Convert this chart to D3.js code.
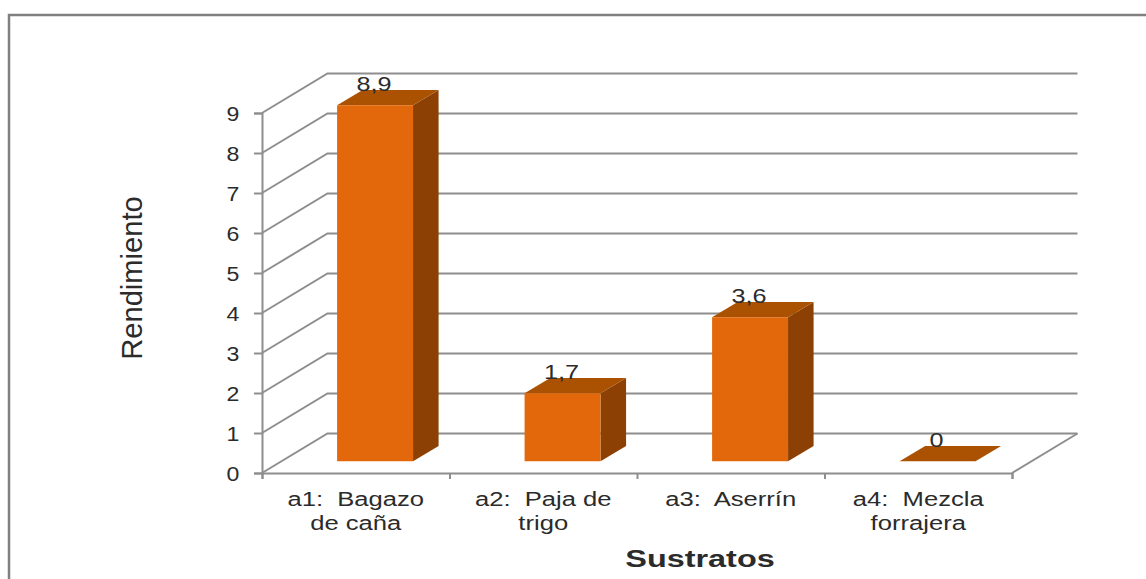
<!DOCTYPE html>
<html lang="es">
<head>
<meta charset="utf-8">
<title>Rendimiento por sustrato</title>
<script src="https://cdn.jsdelivr.net/npm/d3@7"></script>
<style>
html,body{margin:0;padding:0;background:#fff}
svg{display:block}
text{font-family:"Liberation Sans",Arial,sans-serif;fill:#2b2b2b}
</style>
</head>
<body>
<svg id="chart" width="1146" height="579"></svg>
<script>
// Chart values
const categories = ["a1", "a2", "a3", "a4"];
const categoryLabels = [["a1:  Bagazo", "de caña"], ["a2:  Paja de", "trigo"], ["a3:  Aserrín"], ["a4:  Mezcla", "forrajera"]];
const rendimiento = [8.9, 1.7, 3.6, 0];
const valueLabels = ["8,9", "1,7", "3,6", "0"];
const yTicks = [0, 1, 2, 3, 4, 5, 6, 7, 8, 9];
const xTitle = "Sustratos";
const yTitle = "Rendimiento";

const svg = d3.select("#chart");

// Front plane of the 3D box and the offset of its back wall
const x = d3.scaleBand().domain(categories).range([262, 1012]).paddingInner(0).paddingOuter(0);
const y = d3.scaleLinear().domain([0, 9]).range([473, 113]);
const depthX = d3.scaleLinear().domain([0, 1]).range([0, 65.5]);
const depthY = d3.scaleLinear().domain([0, 1]).range([0, -39.5]);

const barShare = 0.405;
const barDepthStart = 0.295, barDepthEnd = 0.685;

const palette = {front: "#e2680b", top: "#ab5202", side: "#8c4003", grid: "#8e8e8e", frame: "#808080"};
const pt = (px, v, d) => [px + depthX(d), y(v) + depthY(d)];
const poly = pts => pts.map(p => p.join(",")).join(" ");

// Horizontally widened text, as the chart's labels are drawn
function label(g, str, cx, baseline, size, opts = {}) {
  const sx = opts.sx || 1.2;
  return g.append("text")
    .attr("transform", `translate(${cx},${baseline}) scale(${sx},1)`)
    .attr("text-anchor", opts.anchor || "middle")
    .attr("font-size", size)
    .attr("font-weight", opts.weight || "normal")
    .style("white-space", "pre")
    .text(str);
}

// Outer frame: only the top and left edges fall inside the page
svg.append("path").attr("d", "M9,579V15H1146").attr("fill", "none")
  .attr("stroke", palette.frame).attr("stroke-width", 2.5);

// Back wall lines and their slanted returns on the side wall
const walls = svg.append("g").attr("fill", "none").attr("stroke", palette.grid).attr("stroke-width", 2);
walls.selectAll("path.grid").data(yTicks).join("path").attr("class", "grid")
  .attr("d", v => {
    const a = pt(x.range()[0], v, 0), b = pt(x.range()[0], v, 1), c = pt(x.range()[1], v, 1);
    return `M${a}L${b}L${c}`;
  });
// Right side of the floor
walls.append("path").attr("d", () => {
  const a = pt(x.range()[1], 0, 0), b = pt(x.range()[1], 0, 1);
  return `M${a}L${b}`;
});

// Axes
const yAxis = d3.axisLeft(y).tickValues(yTicks).tickSize(8).tickFormat("");
const yG = svg.append("g").attr("transform", `translate(${x.range()[0]},0)`).call(yAxis);
const xEdges = categories.map(c => x(c)).concat(x.range()[1]);
const xAxisScale = d3.scaleLinear().domain(x.range()).range(x.range());
const xAxis = d3.axisBottom(xAxisScale).tickValues(xEdges).tickSize(6).tickFormat("");
const xG = svg.append("g").attr("transform", `translate(0,${y(0)})`).call(xAxis);
for (const g of [yG, xG]) {
  g.selectAll("path,line").attr("stroke", palette.grid).attr("stroke-width", 2);
}

// Bars
const bars = svg.selectAll("g.bar").data(categories.map((c, i) => ({c, i, v: rendimiento[i]}))).join("g").attr("class", "bar");
const bw = x.bandwidth() * barShare;
const leftAt = d => x(d.c) + (x.bandwidth() - bw) / 2;

bars.filter(d => d.v > 0).append("polygon").attr("fill", palette.side).attr("points", d => poly([
  pt(leftAt(d) + bw, d.v, barDepthStart), pt(leftAt(d) + bw, d.v, barDepthEnd),
  pt(leftAt(d) + bw, 0, barDepthEnd), pt(leftAt(d) + bw, 0, barDepthStart)]));
bars.append("polygon").attr("fill", palette.top).attr("points", d => poly([
  pt(leftAt(d), d.v, barDepthStart), pt(leftAt(d), d.v, barDepthEnd),
  pt(leftAt(d) + bw, d.v, barDepthEnd), pt(leftAt(d) + bw, d.v, barDepthStart)]));
bars.filter(d => d.v > 0).append("polygon").attr("fill", palette.front).attr("points", d => poly([
  pt(leftAt(d), d.v, barDepthStart), pt(leftAt(d) + bw, d.v, barDepthStart),
  pt(leftAt(d) + bw, 0, barDepthStart), pt(leftAt(d), 0, barDepthStart)]));

// Value labels, above the back edge of each bar top
bars.each(function (d) {
  const p = pt(leftAt(d) + bw / 2, d.v, barDepthStart);
  const back = pt(leftAt(d), d.v, barDepthEnd);
  label(d3.select(this), valueLabels[d.i], p[0] - 1, back[1] + 1, 21, {sx: 1.2});
});

// Y tick labels
const tickLabels = svg.append("g");
yTicks.forEach(v => label(tickLabels, String(v), 233, y(v) + 7.5, 21, {sx: 1.1}));

// Category labels, wrapped on up to two lines
const catG = svg.append("g");
categories.forEach((c, i) => {
  categoryLabels[i].forEach((line, j) => {
    label(catG, line, x(c) + x.bandwidth() / 2, 505.5 + j * 24, 21, {sx: 1.22});
  });
});

// Axis titles
label(svg, xTitle, 700, 567, 24, {weight: "bold", sx: 1.35});
svg.append("text")
  .attr("transform", "translate(142,278) rotate(-90) scale(1.08,1.06)")
  .attr("text-anchor", "middle").attr("font-size", 27).text(yTitle);
</script>
</body>
</html>
